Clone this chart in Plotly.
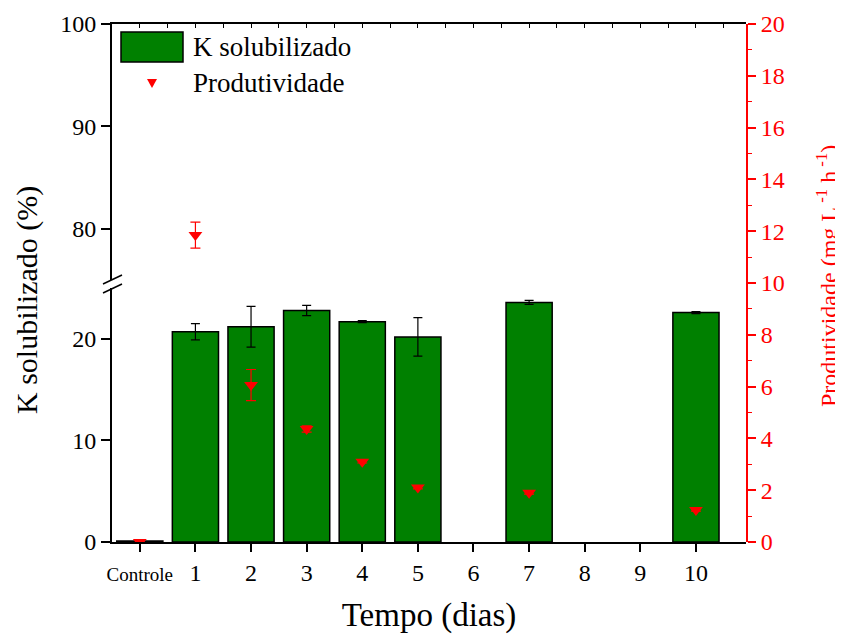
import plotly.graph_objects as go

# ---------------- data ----------------
categories = ["Controle", "1", "2", "3", "4", "5", "6", "7", "8", "9", "10"]
k_solubilizado = [0.1, 20.7, 21.2, 22.8, 21.7, 20.2, None, 23.6, None, None, 22.6]
k_error = [0.0, 0.8, 2.0, 0.5, 0.1, 1.9, None, 0.2, None, None, 0.1]
produtividade = [0.0, 11.85, 6.06, 4.36, 3.1, 2.1, None, 1.9, None, None, 1.24]
prod_error = [0.0, 0.5, 0.6, 0.12, 0.05, 0.05, None, 0.05, None, None, 0.05]
tick_labels = ['<span style="font-size:19px">Controle</span>', "1", "2", "3", "4", "5",
               "6", "7", "8", "9", "10"]
lower_ticks = [0, 10, 20]
upper_ticks = [80, 90, 100]

FONT = "Liberation Serif"
GREEN = "#008000"
RED = "#FF0000"

# the page body adds an 8 px offset; the figure is sized so that the
# plot lands where it is in the original 843x634 picture
OFF = 8
W, H = 843 - OFF, 634 - OFF
L, R, T, B = 112 - OFF, 97, 24 - OFF, 92
PW, PH = W - L - R, H - T - B


def px_x(p):
    return (p - OFF - L) / PW


def px_y(p):
    return (H - B - (p - OFF)) / PH


fig = go.Figure()

fig.add_trace(go.Bar(
    x=categories, y=k_solubilizado, width=0.83,
    marker=dict(color=GREEN, line=dict(color="black", width=1.5)),
    error_y=dict(type="data", array=k_error, color="black", thickness=1.2, width=4.5),
    name="K solubilizado", xaxis="x", yaxis="y", showlegend=False,
))

fig.add_trace(go.Scatter(
    x=categories, y=produtividade, mode="markers",
    marker=dict(symbol="triangle-down", color=RED, size=12, line=dict(width=0)),
    error_y=dict(type="data", array=prod_error, color=RED, thickness=1.2, width=5),
    name="Produtividade", xaxis="x", yaxis="y2", showlegend=False,
))

# empty traces so that the upper (broken) axis and the top frame axis are drawn
fig.add_trace(go.Scatter(x=[], y=[], xaxis="x", yaxis="y3", showlegend=False, hoverinfo="skip"))
fig.add_trace(go.Scatter(x=[], y=[], xaxis="x2", yaxis="y3", showlegend=False, hoverinfo="skip"))

tickfont = dict(family=FONT, size=24, color="black")

fig.update_layout(
    width=W, height=H,
    margin=dict(l=L, r=R, t=T, b=B, pad=0, autoexpand=False),
    paper_bgcolor="white", plot_bgcolor="rgba(0,0,0,0)",
    font=dict(family=FONT, color="black"),
    showlegend=False,
    xaxis=dict(
        type="category", categoryorder="array", categoryarray=categories,
        range=[-0.5, 10.9], domain=[0, 1], anchor="y",
        tickmode="array", tickvals=categories, ticktext=tick_labels,
        ticks="outside", ticklen=8, tickwidth=1.5, tickcolor="black",
        showline=True, linecolor="black", linewidth=2,
        showgrid=False, zeroline=False, tickfont=tickfont, automargin=False,
        title=dict(text="Tempo (dias)", font=dict(family=FONT, size=33), standoff=22),
    ),
    xaxis2=dict(
        range=[-0.5, 10.9], overlaying="x", anchor="y3", side="top",
        showticklabels=False, ticks="inside", ticklen=4, tickwidth=1, tickcolor="black",
        dtick=0.5, tick0=0, showline=True, linecolor="black", linewidth=1.5,
        showgrid=False, zeroline=False, automargin=False,
    ),
    yaxis=dict(
        domain=[0, 0.49], range=[0, 25], anchor="x",
        tickmode="array", tickvals=lower_ticks,
        ticks="outside", ticklen=9, tickwidth=1.5, tickcolor="black",
        showline=True, linecolor="black", linewidth=2,
        showgrid=False, zeroline=False, tickfont=tickfont, automargin=False,
    ),
    yaxis3=dict(
        domain=[0.506, 1], range=[75, 100], anchor="x",
        tickmode="array", tickvals=upper_ticks,
        ticks="outside", ticklen=9, tickwidth=1.5, tickcolor="black",
        showline=True, linecolor="black", linewidth=2,
        showgrid=False, zeroline=False, tickfont=tickfont, automargin=False,
    ),
    yaxis2=dict(
        domain=[0, 1], range=[0, 20], anchor="x", side="right",
        dtick=2, tick0=0,
        ticks="outside", ticklen=8, tickwidth=1.5, tickcolor=RED,
        minor=dict(dtick=1, ticks="outside", ticklen=4, tickwidth=1, tickcolor=RED),
        showline=True, linecolor=RED, linewidth=2,
        showgrid=False, zeroline=False, automargin=False,
        tickfont=dict(family=FONT, size=24, color=RED),
    ),
)

# axis titles
fig.add_annotation(
    text="K solubilizado (%)", textangle=-90, xref="paper", yref="paper",
    x=px_x(27), y=px_y(300), showarrow=False,
    font=dict(family=FONT, size=30, color="black"), xanchor="center", yanchor="middle",
)
fig.add_annotation(
    text="Produtividade (mg L<sup> -1</sup> h<sup> -1</sup>)", textangle=-90,
    xref="paper", yref="paper", x=px_x(827), y=px_y(276), showarrow=False,
    font=dict(family=FONT, size=24, color=RED), xanchor="center", yanchor="middle",
)

# axis break marks
for y0, y1 in [(284, 275), (293, 284)]:
    fig.add_shape(type="line", xref="paper", yref="paper",
                  x0=px_x(103), y0=px_y(y0), x1=px_x(122), y1=px_y(y1),
                  line=dict(color="black", width=1.5))

# legend (drawn manually to match the original swatch sizes)
fig.add_shape(type="rect", xref="paper", yref="paper",
              x0=px_x(121), x1=px_x(183), y0=px_y(62), y1=px_y(32),
              fillcolor=GREEN, line=dict(color="black", width=1.5))
fig.add_shape(type="path", xref="paper", yref="paper",
              path="M {:.5f} {:.5f} L {:.5f} {:.5f} L {:.5f} {:.5f} Z".format(
                  px_x(147), px_y(79), px_x(157), px_y(79), px_x(152), px_y(88)),
              fillcolor=RED, line=dict(color=RED, width=0))
fig.add_annotation(text="K solubilizado", xref="paper", yref="paper",
                   x=px_x(191), y=px_y(47), showarrow=False, xanchor="left", yanchor="middle",
                   font=dict(family=FONT, size=27, color="black"))
fig.add_annotation(text="Produtividade", xref="paper", yref="paper",
                   x=px_x(191), y=px_y(83), showarrow=False, xanchor="left", yanchor="middle",
                   font=dict(family=FONT, size=27, color="black"))

fig.write_html("out.html")
